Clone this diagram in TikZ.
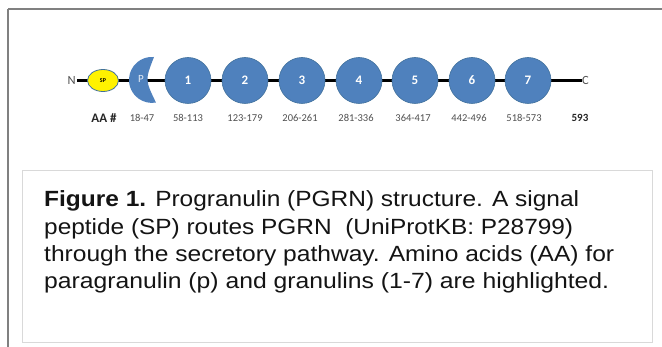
\documentclass[tikz,border=0pt]{standalone}
\usepackage{fontspec}
\setmainfont{Liberation Sans}
\newfontfamily\calib{Carlito}
\usepackage{graphicx}
\usetikzlibrary{shapes.geometric}
\definecolor{gblue}{RGB}{79,129,189}
\definecolor{gedge}{RGB}{65,113,156}
\definecolor{frame}{RGB}{128,128,128}
\definecolor{capbox}{RGB}{217,217,217}
\definecolor{lbl}{RGB}{80,80,80}
\newsavebox\linebox
\newcommand\fitline[2]{\sbox\linebox{#2}\pgfmathsetmacro\sxf{#1/\wd\linebox}\scalebox{\sxf}[1]{\usebox\linebox}}
\tikzset{
  gran/.style={circle, draw=gedge, line width=0.6pt, fill=gblue, minimum size=46pt, inner sep=0pt, text=white, font=\calib\bfseries\fontsize{13}{15}\selectfont},
  aalbl/.style={font=\calib\fontsize{10.5}{12}\selectfont, text=lbl, inner sep=0pt},
  capline/.style={anchor=base west, inner sep=0pt, font=\fontsize{22}{26}\selectfont, text=black!92},
  endlbl/.style={font=\calib\fontsize{12.5}{14}\selectfont, text=lbl, inner sep=0pt}
}
\begin{document}
\begin{tikzpicture}[x=1pt,y=-1pt]
\useasboundingbox (0,0) rectangle (662,347);
\fill[white] (0,0) rectangle (662,347);
% outer frame lines
\draw[frame, line width=1.5pt] (8,9) -- (662,9);
\draw[frame, line width=1.8pt] (8,9) -- (8,347);
% caption box
\draw[capbox, line width=1pt] (22,171) rectangle (652,343);
% backbone
\node[endlbl, anchor=east] (N) at (76,80.5) {N};
\node[endlbl, anchor=west] (C) at (582,80.5) {C};
\draw[black, line width=3pt] (N.east) ++(1,0) coordinate (ns) -- (C.west) ++(-3,0) coordinate (ce);
% signal peptide
\node[ellipse, draw=gedge, line width=0.8pt, fill=yellow, minimum width=31pt, minimum height=22pt, inner sep=0pt, font=\calib\bfseries\fontsize{6}{7}\selectfont] (sp) at (103,80.5) {SP};
% paragranulin
\fill[gblue] (154,57) arc[start angle=-85, end angle=-280, radius=23] .. controls (145,80) .. cycle;
\node[text=white!85!gblue, font=\calib\fontsize{11}{13}\selectfont, inner sep=0pt] (p) at (141,79) {P};
% granulins
\foreach \i/\x in {1/188,2/245,3/302,4/359,5/415,6/472,7/528}{
  \node[gran] (g\i) at (\x,80.5) {\i};
}
% AA labels
\node[font=\calib\bfseries\fontsize{13}{15}\selectfont, text=black!85, inner sep=0pt] (aa) at (104,118) {AA \#};
\foreach \t/\x [count=\k] in {18-47/142,58-113/188,123-179/245,206-261/300,281-336/356,364-417/413,442-496/469,518-573/524}{
  \node[aalbl] (l\k) at (\x,118) {\t};
}
\node[font=\calib\bfseries\fontsize{11}{13}\selectfont, text=black!85, inner sep=0pt] (end) at (580,118) {593};
% caption text
\node[capline] (c1) at (44,207) {\fitline{535pt}{\textbf{Figure 1.} Progranulin (PGRN) structure. A signal}};
\node[capline] (c2) at (44,235) {\fitline{529pt}{peptide (SP) routes PGRN \ (UniProtKB: P28799)}};
\node[capline] (c3) at (44,262) {\fitline{570pt}{through the secretory pathway. Amino acids (AA) for}};
\node[capline] (c4) at (44,289) {\fitline{565pt}{paragranulin (p) and granulins (1-7) are highlighted.}};
\end{tikzpicture}
\end{document}
